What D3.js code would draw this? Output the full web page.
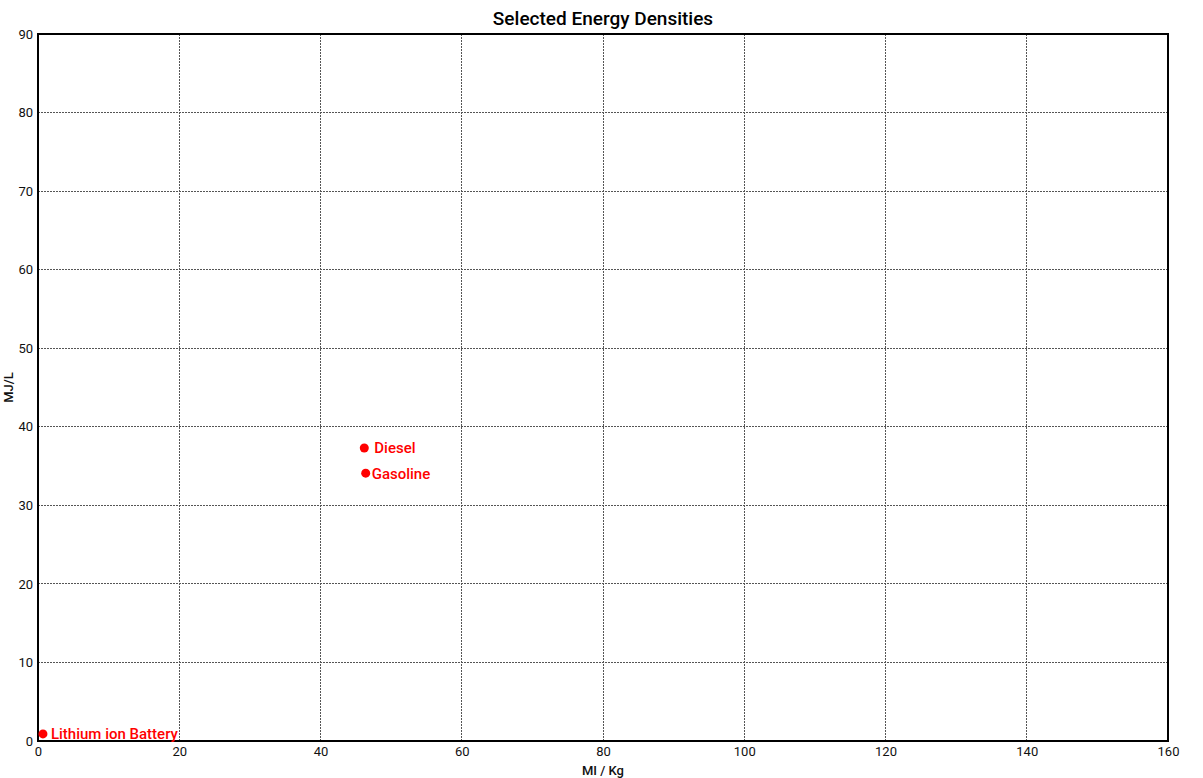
<!DOCTYPE html>
<html><head><meta charset="utf-8">
<script src="https://cdn.jsdelivr.net/npm/d3@7"></script>
<style>
body{margin:0;background:#fff;font-family:Roboto,"Noto Sans",sans-serif;}
</style></head>
<body><svg id="chart" width="1203" height="778"></svg>
<script>
const names = ["Lithium ion Battery", "Diesel", "Gasoline"];
const mjPerKg = [0.7, 46.2, 46.4];
const mjPerL = [0.9, 37.3, 34.1];
const labelDx = [8, 10, 6];
const xTicks = [0, 20, 40, 60, 80, 100, 120, 140, 160];
const yTicks = [0, 10, 20, 30, 40, 50, 60, 70, 80, 90];

const svg = d3.select("#chart");
const m = {l: 38, r: 35, t: 34, b: 37};
const W = 1203, H = 778;
const x = d3.scaleLinear().domain([0, 160]).range([m.l, W - m.r]);
const y = d3.scaleLinear().domain([0, 90]).range([H - m.b, m.t]);

// grid
svg.append("g").selectAll("line").data(xTicks.filter(d => d > 0 && d < 160)).join("line")
  .attr("x1", d => x(d)).attr("x2", d => x(d)).attr("y1", y(0)).attr("y2", y(90))
  .attr("stroke", "#555").attr("stroke-dasharray", "2,1").attr("shape-rendering", "crispEdges");
svg.append("g").selectAll("line").data(yTicks.filter(d => d > 0 && d < 90)).join("line")
  .attr("x1", x(0)).attr("x2", x(160)).attr("y1", d => y(d)).attr("y2", d => y(d))
  .attr("stroke", "#555").attr("stroke-dasharray", "2,1").attr("shape-rendering", "crispEdges");

// frame
svg.append("rect").attr("x", x(0)).attr("y", y(90)).attr("width", x(160) - x(0)).attr("height", y(0) - y(90))
  .attr("fill", "none").attr("stroke", "#000").attr("stroke-width", 2);

// axes
const xAxis = svg.append("g").attr("transform", `translate(0,${y(0)})`)
  .call(d3.axisBottom(x).tickValues(xTicks).tickSize(0).tickPadding(6));
const yAxis = svg.append("g").attr("transform", `translate(${x(0)},0)`)
  .call(d3.axisLeft(y).tickValues(yTicks).tickSize(0).tickPadding(5));
[xAxis, yAxis].forEach(a => {
  a.select(".domain").remove();
  a.selectAll("text").attr("font-family", "Roboto").attr("font-size", 13).attr("fill", "#111");
});

// title
svg.append("text").attr("x", (x(0) + x(160)) / 2).attr("y", 25).attr("text-anchor", "middle")
  .attr("font-family", "Roboto").attr("font-weight", 500).attr("font-size", 19).attr("fill", "#000")
  .text("Selected Energy Densities");
svg.append("text").attr("x", (x(0) + x(160)) / 2).attr("y", 775).attr("text-anchor", "middle")
  .attr("font-family", "Roboto").attr("font-weight", 500).attr("font-size", 13).attr("fill", "#111")
  .text("MI / Kg");
svg.append("text").attr("transform", `translate(13,${(y(0) + y(90)) / 2}) rotate(-90)`).attr("text-anchor", "middle")
  .attr("font-family", "Roboto").attr("font-weight", 500).attr("font-size", 13).attr("fill", "#111")
  .text("MJ/L");

// points
const data = names.map((n, i) => ({n, x: mjPerKg[i], y: mjPerL[i], dx: labelDx[i]}));
svg.append("g").selectAll("circle").data(data).join("circle")
  .attr("cx", d => x(d.x)).attr("cy", d => y(d.y)).attr("r", 4.5).attr("fill", "#f00");
svg.append("g").selectAll("text").data(data).join("text")
  .attr("x", d => x(d.x) + d.dx).attr("y", d => y(d.y) + 5.5)
  .attr("font-family", "Roboto").attr("font-weight", 500).attr("font-size", 15).attr("fill", "#f00")
  .text(d => d.n);
</script></body></html>
